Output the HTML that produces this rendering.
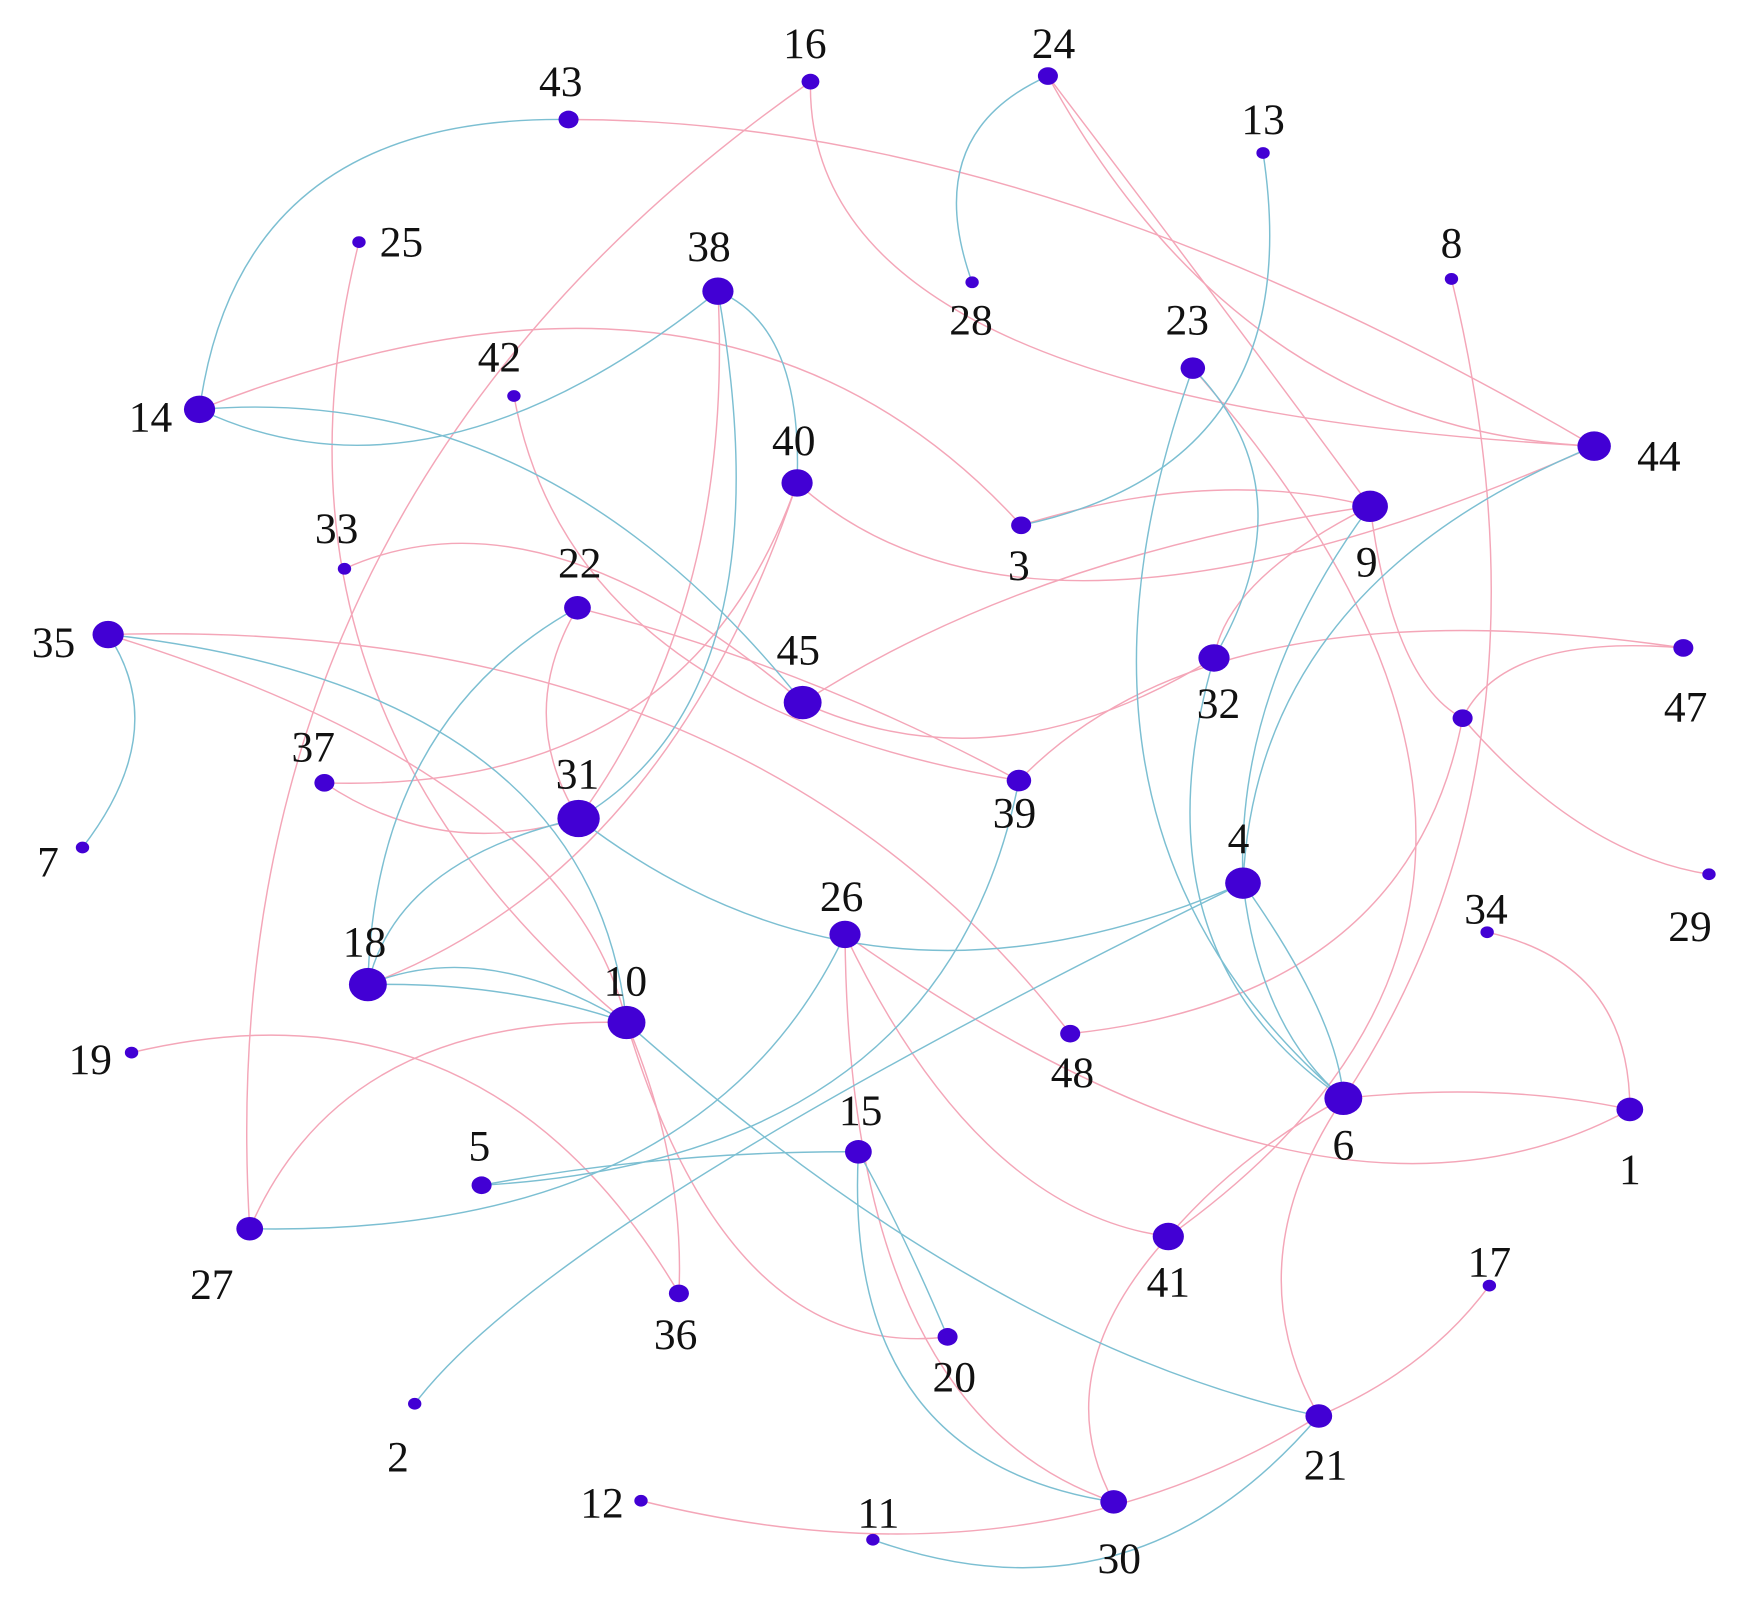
<!DOCTYPE html>
<html><head><meta charset="utf-8"><style>
html,body{margin:0;padding:0;background:#fff;}
svg{display:block;}
text{font-family:"Liberation Serif",serif;font-size:39px;fill:#111;text-anchor:middle;}
</style></head><body>
<svg id="g" width="1748" height="1608" viewBox="0 0 1568 1442" xmlns="http://www.w3.org/2000/svg">
<g id="edges" fill="none" stroke-width="1.3"></g>
<g id="nodes" fill="#4200d4"></g>
<g id="labels">
<text x="722" y="52">16</text><text x="945" y="52">24</text><text x="503" y="86">43</text>
<text x="1133" y="120">13</text><text x="360" y="230">25</text><text x="1302" y="231">8</text>
<text x="636" y="234">38</text><text x="871" y="300">28</text><text x="1065" y="300">23</text>
<text x="448" y="333">42</text><text x="135" y="387">14</text><text x="1488" y="422">44</text>
<text x="712" y="408">40</text><text x="914" y="520">3</text><text x="1226" y="517">9</text>
<text x="302" y="487">33</text><text x="520" y="518">22</text><text x="48" y="589">35</text>
<text x="716" y="596">45</text><text x="1093" y="644">32</text><text x="1512" y="647">47</text>
<text x="281" y="683">37</text><text x="910" y="742">39</text><text x="518" y="707">31</text>
<text x="43" y="786">7</text><text x="1111" y="765">4</text><text x="1516" y="844">29</text>
<text x="1333" y="828">34</text><text x="755" y="817">26</text><text x="327" y="858">18</text>
<text x="561" y="893">10</text><text x="962" y="975">48</text><text x="81" y="963">19</text>
<text x="1205" y="1040">6</text><text x="1462" y="1062">1</text><text x="772" y="1009">15</text>
<text x="430" y="1041">5</text><text x="190" y="1165">27</text><text x="1048" y="1163">41</text>
<text x="1336" y="1145">17</text><text x="606" y="1210">36</text><text x="856" y="1248">20</text>
<text x="357" y="1320">2</text><text x="1189" y="1327">21</text><text x="1004" y="1411">30</text>
<text x="540" y="1361">12</text><text x="788" y="1370">11</text>
</g>
</svg>
<script>
var N={16:[727,73,8],24:[940,68,9],43:[510,107,9],13:[1133,137,6],25:[322,217,6],8:[1302,250,6],38:[644,261,14],28:[872,253,6],23:[1070,330,11],42:[461,355,6],14:[179,367,14],44:[1430,400,15],40:[715,433,14],3:[916,471,9],9:[1229,454,16],33:[309,510,6],22:[518,545,12],35:[97,569,14],45:[720,630,17],32:[1089,590,14],47:[1510,581,9],X:[1312,644,9],37:[291,702,9],39:[914,700,11],31:[519,734,19],7:[74,760,6],4:[1115,792,16],29:[1533,784,6],34:[1334,836,6],26:[758,838,14],18:[330,883,17],10:[562,917,17],48:[960,927,9],19:[118,944,6],6:[1205,985,17],1:[1462,995,12],15:[770,1033,12],5:[432,1063,9],27:[224,1102,12],41:[1048,1109,14],17:[1336,1153,6],36:[609,1160,9],20:[850,1199,9],2:[372,1259,6],21:[1183,1270,12],30:[999,1347,12],12:[575,1346,6],11:[783,1381,6]};
var B=[[14,43,280,170],[14,38,400,390],[14,45,470,420],[24,28,865,140],[13,3,1100,360],[38,40,700,320],[38,31,645,560],[23,32,1128,450],[23,6,1030,700],[9,4,1140,620],[44,4,1200,560],[32,6,1080,820],[4,6,1180,900],[4,6,1145,905],[22,18,380,680],[35,7,120,660],[35,10,430,680],[31,18,390,790],[31,4,800,850],[18,10,440,870],[18,10,450,890],[10,21,880,1150],[15,20,810,1110],[15,30,820,1250],[5,15,600,1040],[26,27,560,1040],[5,39,760,960],[2,4,620,1060],[11,21,1000,1395]];
var P=[[43,44,950,180],[16,27,330,520],[16,44,900,300],[24,9,1100,280],[24,44,1150,310],[25,10,330,600],[14,3,600,300],[42,39,600,580],[40,44,1000,520],[40,37,560,640],[38,31,620,520],[18,40,560,720],[3,9,1080,440],[9,45,950,520],[33,45,500,500],[22,31,490,640],[22,39,720,610],[35,48,600,650],[35,10,420,720],[47,39,1150,580],[45,32,900,660],[9,32,1130,520],[9,'X',1260,580],['X',29,1420,740],['X',47,1380,590],['X',48,1200,840],[8,6,1330,650],[23,41,1270,760],[41,6,1120,1040],[6,1,1340,980],[26,1,1150,1030],[6,21,1150,1130],[26,41,890,1030],[26,30,820,1180],[10,36,600,1040],[10,20,680,1140],[10,27,350,960],[19,36,400,960],[34,1,1430,890],[17,21,1270,1220],[41,30,980,1230],[37,31,400,745],[12,21,900,1370]];
var ns="http://www.w3.org/2000/svg",E=document.getElementById('edges'),G=document.getElementById('nodes');
function draw(L,col){L.forEach(function(e){var a=N[e[0]],b=N[e[1]];var cx=2*e[2]-(a[0]+b[0])/2,cy=2*e[3]-(a[1]+b[1])/2;var p=document.createElementNS(ns,'path');p.setAttribute('d','M'+a[0]+' '+a[1]+' Q'+cx+' '+cy+' '+b[0]+' '+b[1]);p.setAttribute('stroke',col);E.appendChild(p);});}
draw(P,'#f4a6b8');draw(B,'#7cbfd2');
for(var k in N){var n=N[k];var c=document.createElementNS(ns,'ellipse');c.setAttribute('cx',n[0]);c.setAttribute('cy',n[1]);c.setAttribute('rx',n[2]);c.setAttribute('ry',n[2]*0.88);G.appendChild(c);}
</script>
</body></html>
